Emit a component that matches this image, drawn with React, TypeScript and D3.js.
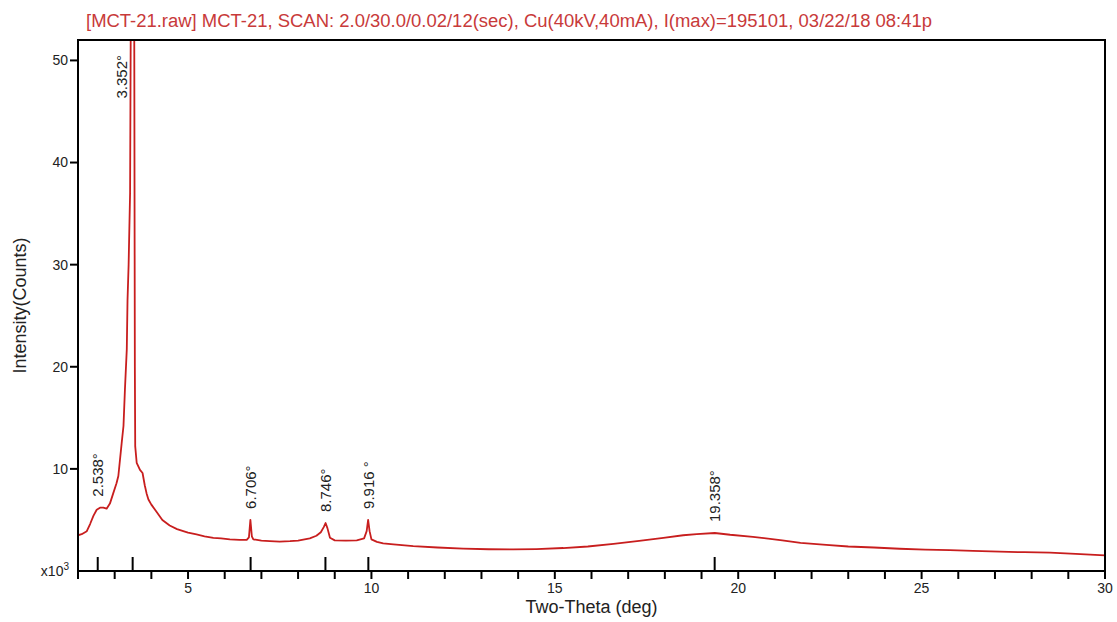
import React from "react";
import * as d3 from "d3";

const W = 1117;
const H = 622;
const PLOT = { left: 78, right: 1105, top: 40, bottom: 571 };

const titleText =
  "[MCT-21.raw] MCT-21, SCAN: 2.0/30.0/0.02/12(sec), Cu(40kV,40mA), I(max)=195101, 03/22/18 08:41p";
const xTitle = "Two-Theta (deg)";
const yTitle = "Intensity(Counts)";

// Two-theta (deg) and intensity (x10^3 counts)
const twoTheta = [
  2.0, 2.1, 2.24, 2.33, 2.42, 2.51, 2.6, 2.69, 2.78, 2.87, 2.96, 3.05, 3.1, 3.19, 3.24, 3.28,
  3.33, 3.35, 3.38, 3.42, 3.44, 3.49, 3.52, 3.54, 3.55, 3.56, 3.6, 3.69, 3.76, 3.82, 3.87,
  3.92, 4.0, 4.14, 4.3, 4.5, 4.7, 4.87, 5.0, 5.23, 5.45, 5.69, 5.9, 6.14, 6.4, 6.6, 6.66,
  6.7, 6.74, 6.78, 7.0, 7.23, 7.5, 7.78, 8.0, 8.32, 8.5, 8.62, 8.7, 8.75, 8.8, 8.87, 9.0,
  9.3, 9.6, 9.8, 9.87, 9.91, 9.95, 10.0, 10.15, 10.32, 10.6, 11.14, 11.8, 12.5, 13.2, 13.87,
  14.5, 15.23, 15.9, 16.6, 17.3, 17.96, 18.5, 18.87, 19.36, 19.78, 20.4, 21.2, 21.7, 22.4,
  23.0, 23.7, 24.4, 25.1, 25.77, 26.4, 27.13, 27.8, 28.5, 29.2, 29.86, 30.0,
];
const intensity = [
  3.5, 3.6, 3.9, 4.6, 5.4, 6.0, 6.2, 6.2, 6.1, 6.6, 7.6, 8.6, 9.3, 12.5, 14.2, 17.8,
  21.7, 26.5, 30.0, 37.0, 55.0, 195.1, 80.0, 40.0, 20.0, 12.2, 10.6, 9.9, 9.6, 8.4, 7.6,
  7.0, 6.5, 5.8, 5.0, 4.45, 4.1, 3.9, 3.75, 3.58, 3.4, 3.25, 3.2, 3.1, 3.05, 3.05, 3.3,
  5.0, 3.4, 3.1, 2.97, 2.92, 2.88, 2.92, 2.98, 3.2, 3.45, 3.8, 4.3, 4.7, 4.2, 3.25, 3.0,
  2.98, 3.0, 3.2, 3.9, 5.0, 3.9, 3.1, 2.85, 2.7, 2.6, 2.43, 2.3, 2.2, 2.13, 2.11,
  2.15, 2.25, 2.4, 2.65, 2.95, 3.25, 3.5, 3.62, 3.72, 3.55, 3.35, 3.0, 2.75, 2.55,
  2.4, 2.3, 2.18, 2.1, 2.04, 1.97, 1.89, 1.84, 1.79, 1.68, 1.55, 1.53,
];

const xTickLabels = [5, 10, 15, 20, 25, 30];
const yTickLabels = [10, 20, 30, 40, 50];

const peakPositions = [2.538, 3.49, 6.706, 8.746, 9.916, 19.358];
const peakLabels = ["2.538°", "3.352°", "6.706°", "8.746°", "9.916 °", "19.358°"];

const FONT = "Arial, 'Liberation Sans', Helvetica, sans-serif";
const CURVE = "#c81e1e";
const TITLE = "#c83a3a";

export default function App() {
  const x = d3.scaleLinear().domain([2, 30]).range([PLOT.left, PLOT.right]);
  const y = d3.scaleLinear().domain([0, 52]).range([PLOT.bottom, PLOT.top]);

  const pts = twoTheta.map((t, i) => [t, intensity[i]] as [number, number]);
  const line = d3
    .line<[number, number]>()
    .x((d) => x(d[0]))
    .y((d) => y(d[1]));
  const path = line(pts) || "";

  const minorTicks = x.ticks(28);

  const peakHeight = (p: number) => {
    let best = 0;
    pts.forEach(([t, v]) => {
      if (Math.abs(t - p) <= 0.07 && v > best) best = v;
    });
    return best;
  };

  return (
    <div style={{ position: "absolute", left: 0, top: 0, width: W, height: H, background: "#fff" }}>
      <svg width={W} height={H} style={{ display: "block" }}>
        <defs>
          <clipPath id="plotclip">
            <rect
              x={PLOT.left}
              y={PLOT.top}
              width={PLOT.right - PLOT.left}
              height={PLOT.bottom - PLOT.top}
            />
          </clipPath>
        </defs>
        <rect x={0} y={0} width={W} height={H} fill="#fff" />

        <text
          x={86}
          y={27}
          fill={TITLE}
          fontFamily={FONT}
          fontSize={18}
          textLength={846}
          lengthAdjust="spacingAndGlyphs"
        >
          {titleText}
        </text>

        <path
          d={path}
          fill="none"
          stroke={CURVE}
          strokeWidth={1.8}
          strokeLinejoin="round"
          clipPath="url(#plotclip)"
        />

        {/* frame */}
        <rect
          x={PLOT.left}
          y={PLOT.top}
          width={PLOT.right - PLOT.left}
          height={PLOT.bottom - PLOT.top}
          fill="none"
          stroke="#000"
          strokeWidth={2}
        />

        {/* x ticks */}
        {minorTicks.map((t) => (
          <line
            key={"xt" + t}
            x1={x(t)}
            x2={x(t)}
            y1={PLOT.bottom}
            y2={PLOT.bottom + 8}
            stroke="#000"
            strokeWidth={2}
          />
        ))}
        {xTickLabels.map((t) => (
          <text
            key={"xl" + t}
            x={x(t)}
            y={PLOT.bottom + 22}
            textAnchor="middle"
            fontFamily={FONT}
            fontSize={14}
            fill="#222"
          >
            {t}
          </text>
        ))}

        {/* y ticks */}
        {yTickLabels.map((t) => (
          <g key={"yt" + t}>
            <line
              x1={PLOT.left - 8}
              x2={PLOT.left}
              y1={y(t)}
              y2={y(t)}
              stroke="#000"
              strokeWidth={2}
            />
            <text
              x={PLOT.left - 10}
              y={y(t)}
              dy="0.35em"
              textAnchor="end"
              fontFamily={FONT}
              fontSize={14}
              fill="#222"
            >
              {t}
            </text>
          </g>
        ))}
        <text
          x={PLOT.left - 9}
          y={PLOT.bottom + 5}
          textAnchor="end"
          fontFamily={FONT}
          fontSize={14}
          fill="#222"
        >
          x10
          <tspan dy={-6} fontSize={10}>
            3
          </tspan>
        </text>

        {/* peak markers and labels */}
        {peakPositions.map((p, i) => {
          const px = x(p);
          const h = peakHeight(p);
          const clipped = h > y.domain()[1];
          const lx = clipped ? px - 11 : px;
          const ly = clipped ? PLOT.top + 15 : y(h) - 11;
          return (
            <g key={"pk" + i}>
              <line
                x1={px}
                x2={px}
                y1={PLOT.bottom - 14}
                y2={PLOT.bottom}
                stroke="#000"
                strokeWidth={2}
              />
              <text
                transform={`translate(${lx},${ly}) rotate(-90)`}
                dy="0.35em"
                textAnchor={clipped ? "end" : "start"}
                fontFamily={FONT}
                fontSize={15}
                fill="#222"
              >
                {peakLabels[i]}
              </text>
            </g>
          );
        })}

        {/* axis titles */}
        <text
          x={(PLOT.left + PLOT.right) / 2}
          y={613}
          textAnchor="middle"
          fontFamily={FONT}
          fontSize={18}
          fill="#222"
        >
          {xTitle}
        </text>
        <text
          transform={`translate(26,${(PLOT.top + PLOT.bottom) / 2}) rotate(-90)`}
          textAnchor="middle"
          fontFamily={FONT}
          fontSize={18}
          fill="#222"
        >
          {yTitle}
        </text>
      </svg>
    </div>
  );
}
